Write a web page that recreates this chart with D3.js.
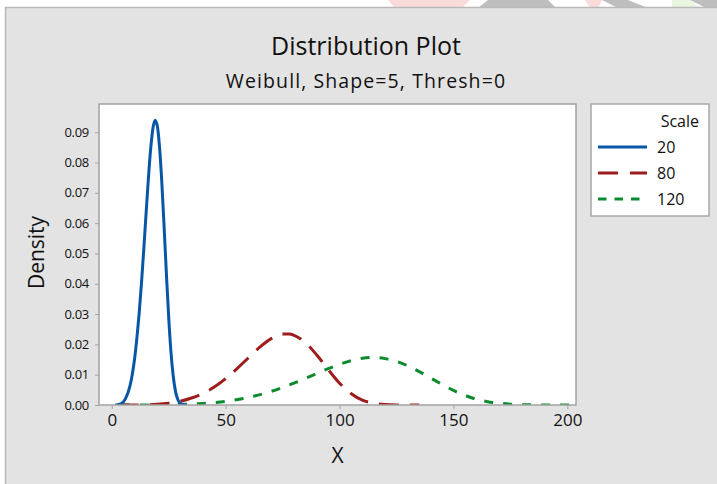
<!DOCTYPE html>
<html>
<head>
<meta charset="utf-8">
<script src="https://cdn.jsdelivr.net/npm/d3@7"></script>
<style>
  html, body { margin: 0; padding: 0; background: #ffffff; }
  svg { display: block; }
  text { font-family: "Open Sans", "Noto Sans", sans-serif; fill: #111111; }
</style>
</head>
<body>
<script>
// ---- Data ----
const title = "Distribution Plot";
const subtitle = "Weibull, Shape=5, Thresh=0";
const xLabel = "X";
const yLabel = "Density";
const legendTitle = "Scale";
const seriesNames = ["20", "80", "120"];

const xTicks = [0, 50, 100, 150, 200];
const yTicks = [0, 0.01, 0.02, 0.03, 0.04, 0.05, 0.06, 0.07, 0.08, 0.09];

// Scale = 20
const x20 = [1.5, 2, 4, 6, 8, 9, 10, 11, 12, 13, 14, 15, 16, 17, 18, 19, 20, 21, 22, 23, 24, 25, 26, 27, 28, 29, 30, 32, 33];
const y20 = [0, 0.00003, 0.0004, 0.0020, 0.0063, 0.0101, 0.0151, 0.0218, 0.0300, 0.0397, 0.0507, 0.0624, 0.0738, 0.0838, 0.0909, 0.0939, 0.0920, 0.0848, 0.0731, 0.0585, 0.0431, 0.0289, 0.0174, 0.0094, 0.0044, 0.0018, 0.0006, 0.00005, 0];

// Scale = 80
const x80 = [3, 10, 15, 20, 25, 30, 35, 40, 45, 50, 55, 60, 65, 70, 75, 78, 80, 85, 90, 95, 100, 105, 110, 115, 120, 125, 130, 135];
const y80 = [0, 0.00002, 0.00008, 0.00024, 0.0006, 0.0012, 0.0023, 0.0038, 0.0059, 0.0087, 0.0120, 0.0156, 0.0191, 0.0219, 0.0234, 0.0234, 0.0230, 0.0206, 0.0165, 0.0117, 0.0072, 0.0038, 0.0016, 0.0006, 0.00016, 0.00003, 0.000005, 0];

// Scale = 120
const x120 = [4, 10, 20, 30, 40, 50, 60, 70, 75, 80, 85, 90, 95, 100, 105, 110, 115, 120, 125, 130, 135, 140, 145, 150, 155, 160, 165, 170, 180, 190, 203.8];
const y120 = [0, 0.000002, 0.00003, 0.00016, 0.0005, 0.0012, 0.0025, 0.0045, 0.0058, 0.0072, 0.0088, 0.0104, 0.0120, 0.0134, 0.0146, 0.0154, 0.0157, 0.0153, 0.0144, 0.0129, 0.0110, 0.0089, 0.0068, 0.0048, 0.0032, 0.0019, 0.0011, 0.0006, 0.0001, 0.00001, 0];

const seriesX = [x20, x80, x120];
const seriesY = [y20, y80, y120];
const seriesColors = ["#0757a6", "#9e1c1c", "#0b8a2e"];
const seriesDash = [null, "20,11", "9,10"];

// ---- Drawing ----
const W = 717, H = 484;
const svg = d3.select("body").append("svg").attr("width", W).attr("height", H);

// screenshot strip at the very top
const strip = svg.append("g");
strip.append("rect").attr("x", 0).attr("y", 0).attr("width", W).attr("height", 8).attr("fill", "#ffffff");
const stripShapes = [
  {pts: [[388,0],[470,0],[462,8],[395,8]], c: "#fbdada"},
  {pts: [[488,0],[548,0],[556,8],[478,8]], c: "#bebebe"},
  {pts: [[585,0],[602,0],[598,8],[590,8]], c: "#fbdada"},
  {pts: [[602,0],[628,0],[648,8],[618,8]], c: "#bebebe"},
  {pts: [[672,0],[690,0],[700,8],[672,8]], c: "#e9f6df"},
  {pts: [[690,0],[717,0],[717,8],[706,8]], c: "#bebebe"}
];
strip.selectAll("polygon").data(stripShapes).join("polygon")
  .attr("points", d => d.pts.map(p => p.join(",")).join(" "))
  .attr("fill", d => d.c);

// outer grey panel
svg.append("rect").attr("x", 5.5).attr("y", 7.5).attr("width", W).attr("height", H)
  .attr("fill", "#e3e3e3").attr("stroke", "#b9b9b9").attr("stroke-width", 1.5);

const plot = {left: 99, right: 576, top: 104, bottom: 405};

const x = d3.scaleLinear().domain([-5.6, 203.8]).range([plot.left, plot.right]);
const y = d3.scaleLinear().domain([0, 0.0993]).range([plot.bottom, plot.top]);

// plot background
svg.append("rect").attr("x", plot.left).attr("y", plot.top)
  .attr("width", plot.right - plot.left).attr("height", plot.bottom - plot.top)
  .attr("fill", "#ffffff");

// clip
svg.append("clipPath").attr("id", "clip").append("rect")
  .attr("x", plot.left).attr("y", plot.top - 2)
  .attr("width", plot.right - plot.left).attr("height", plot.bottom - plot.top + 2);

// curves
const line = d3.line().x(d => x(d[0])).y(d => y(d[1])).curve(d3.curveMonotoneX);
const gCurves = svg.append("g").attr("clip-path", "url(#clip)");
[2, 1, 0].forEach(i => {
  const pts = seriesX[i].map((v, j) => [v, seriesY[i][j]]);
  gCurves.append("path").datum(pts)
    .attr("d", line)
    .attr("fill", "none")
    .attr("stroke", seriesColors[i])
    .attr("stroke-width", 3)
    .attr("stroke-dasharray", seriesDash[i])
    .attr("stroke-linejoin", "round");
});

// plot border
svg.append("rect").attr("x", plot.left).attr("y", plot.top)
  .attr("width", plot.right - plot.left).attr("height", plot.bottom - plot.top)
  .attr("fill", "none").attr("stroke", "#a3a3a3").attr("stroke-width", 1.5);

// x axis
const xAxis = svg.append("g").attr("transform", `translate(0,${plot.bottom})`)
  .call(d3.axisBottom(x).tickValues(xTicks).tickSize(4).tickPadding(5).tickFormat(d3.format("d")));
xAxis.select(".domain").remove();
xAxis.selectAll(".tick line").attr("stroke", "#a3a3a3");
xAxis.selectAll(".tick text").attr("font-size", 17).attr("font-family", "'Open Sans', sans-serif").attr("fill", "#111111");

// y axis
const yAxis = svg.append("g").attr("transform", `translate(${plot.left},0)`)
  .call(d3.axisLeft(y).tickValues(yTicks).tickSize(4).tickPadding(6).tickFormat(d3.format(".2f")));
yAxis.select(".domain").remove();
yAxis.selectAll(".tick line").attr("stroke", "#a3a3a3");
yAxis.selectAll(".tick text").attr("font-size", 13).attr("font-family", "'Open Sans', sans-serif").attr("fill", "#111111").attr("letter-spacing", "-0.3px");

// titles
svg.append("text").attr("x", 366).attr("y", 55).attr("text-anchor", "middle")
  .attr("font-size", 25).text(title);
svg.append("text").attr("x", 366).attr("y", 88).attr("text-anchor", "middle")
  .attr("font-size", 19.5).attr("letter-spacing", "1.1px").text(subtitle);
svg.append("text").attr("x", (plot.left + plot.right) / 2).attr("y", 463).attr("text-anchor", "middle")
  .attr("font-size", 21).text(xLabel);
svg.append("text").attr("transform", `translate(44,${(plot.top + plot.bottom) / 2 - 2}) rotate(-90)`)
  .attr("text-anchor", "middle").attr("font-size", 21).text(yLabel);

// legend
const lg = svg.append("g");
lg.append("rect").attr("x", 591).attr("y", 104).attr("width", 118).attr("height", 112)
  .attr("fill", "#ffffff").attr("stroke", "#a8a8a8").attr("stroke-width", 1.5);
lg.append("text").attr("x", 699).attr("y", 127).attr("text-anchor", "end")
  .attr("font-size", 16).text(legendTitle);
const legendY = d3.scalePoint().domain(seriesNames).range([147, 199]);
seriesNames.forEach((name, i) => {
  const yy = legendY(name);
  lg.append("line").attr("x1", 598).attr("x2", 647).attr("y1", yy).attr("y2", yy)
    .attr("stroke", seriesColors[i]).attr("stroke-width", 3)
    .attr("stroke-dasharray", i === 2 ? "8.5,8" : (i === 1 ? "20,12" : null));
  lg.append("text").attr("x", 657).attr("y", yy).attr("dy", "0.35em")
    .attr("font-size", 16).text(name);
});
</script>
</body>
</html>
